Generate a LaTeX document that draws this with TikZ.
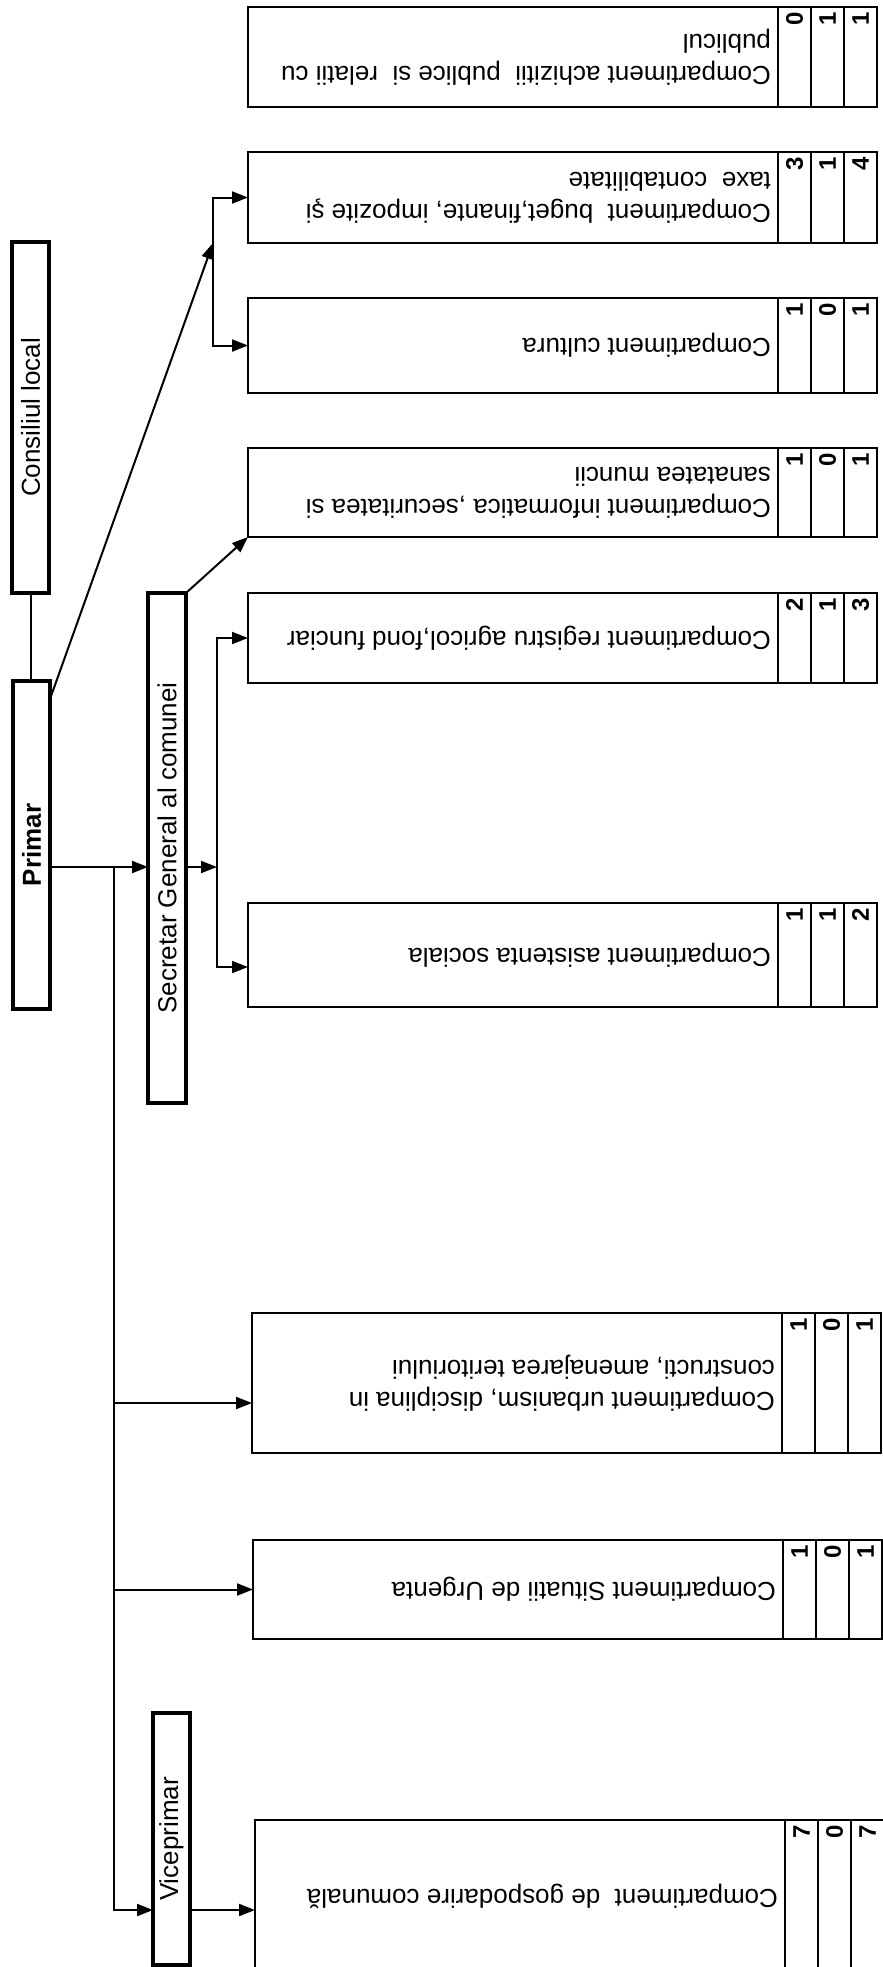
\documentclass[tikz,border=0pt]{standalone}
\usepackage{fontspec}
\setmainfont{Liberation Sans}
\usepackage{graphicx}
\usepackage{tikz}
\usetikzlibrary{arrows.meta, positioning}
\tikzset{
  headbox/.style={rectangle, draw, line width=2.2pt, inner sep=0pt, outer sep=0pt,
    font=\fontsize{13}{16}\selectfont},
  dept/.style={rectangle, draw, line width=1.2pt, minimum width=265pt, inner sep=0pt,
    outer sep=0pt, font=\fontsize{13}{16}\selectfont},
  nrcell/.style 2 args={rectangle, draw, line width=1.2pt, minimum width=16.5pt,
    minimum height=#1, inner sep=0pt, outer sep=0pt,
    label={[nrnum]north:\rotatebox{90}{#2}}},
  nrnum/.style={anchor=north, inner sep=2.5pt, font=\bfseries\fontsize{12}{12}\selectfont},
  arrow/.style={-{Triangle[length=8pt, width=6pt]}, line width=1pt},
  line/.style={line width=1pt}
}

\begin{document}
\begin{tikzpicture}[x=0.5pt, y=-0.5pt]
  \useasboundingbox (0,0) rectangle (883,1967);
  \clip (0,0) rectangle (883,1967);

  % Conducere
  \node[headbox, minimum width=18.5pt, minimum height=175.5pt] (consiliu) at (30.5,417.5) {\rotatebox{90}{Consiliul local}};
  \node[headbox, minimum width=18.5pt, minimum height=164pt] (primar) at (31.5,845) {\rotatebox{90}{\bfseries Primar}};
  \node[headbox, minimum width=19pt, minimum height=255pt] (secretar) at (167,848) {\rotatebox{90}{Secretar General al comunei}};
  \node[headbox, minimum width=18.5pt, minimum height=126pt] (vice) at (171.5,1839) {\rotatebox{90}{Viceprimar}};

  % Compartimente
  \node[dept, minimum height=50pt] (achiz) at (513,57) {\rotatebox{180}{\parbox{258pt}{\raggedright Compartiment achizitii~ publice si~ relatii cu\\publicul}}};
  \node[dept, minimum height=45.5pt] (buget) at (513,197.5) {\rotatebox{180}{\parbox{258pt}{\raggedright Compartiment~ buget,finante, impozite şi\\taxe~ contabilitate}}};
  \node[dept, minimum height=47.5pt] (cultura) at (513,345.5) {\rotatebox{180}{\parbox{258pt}{\raggedright Compartiment cultura}}};
  \node[dept, minimum height=44.5pt] (inform) at (513,492.5) {\rotatebox{180}{\parbox{258pt}{\raggedright Compartiment informatica ,securitatea si\\sanatatea muncii}}};
  \node[dept, minimum height=45pt] (registru) at (513,638) {\rotatebox{180}{\parbox{258pt}{\raggedright Compartiment registru agricol,fond funciar}}};
  \node[dept, minimum height=52pt] (asist) at (513,955) {\rotatebox{180}{\parbox{258pt}{\raggedright Compartiment asistenta sociala}}};
  \node[dept, minimum height=70pt] (urban) at (517,1383) {\rotatebox{180}{\parbox{258pt}{\raggedright Compartiment urbanism, disciplina in\\constructi, amenajarea teritoriului}}};
  \node[dept, minimum height=49.5pt] (situatii) at (518,1589.5) {\rotatebox{180}{\parbox{258pt}{\raggedright Compartiment Situatii de Urgenta}}};
  \node[dept, minimum height=76pt] (gospod) at (520,1896) {\rotatebox{180}{\parbox{258pt}{\raggedright Compartiment~ de gospodarire comunală}}};

  % Posturi
  \foreach \dep/\h/\a/\b/\c in {achiz/50pt/0/1/1, buget/45.5pt/3/1/4, cultura/47.5pt/1/0/1,
      inform/44.5pt/1/0/1, registru/45pt/2/1/3, asist/52pt/1/1/2, urban/70pt/1/0/1,
      situatii/49.5pt/1/0/1, gospod/76pt/7/0/7} {
    \node[nrcell={\h}{\a}, right=0pt of \dep] (\dep-a) {};
    \node[nrcell={\h}{\b}, right=0pt of \dep-a] (\dep-b) {};
    \node[nrcell={\h}{\c}, right=0pt of \dep-b] (\dep-c) {};
  }

  % Legaturi
  \coordinate (pbus) at (114,867);
  \coordinate (vbot) at (114,1910);
  \coordinate (sbus) at (217,867);
  \coordinate (tbus) at (213,243);
  \coordinate (urbarr) at ([yshift=-10pt]urban.west);
  \coordinate (asarr) at ([yshift=-6pt]asist.west);

  \draw[line] (consiliu.south) -- (consiliu.south |- primar.north);
  \draw[arrow] (primar.east |- pbus) -- (secretar.west |- pbus);
  \draw[arrow] ([yshift=-9pt]primar.north east) -- (tbus);
  \draw[arrow] (tbus) |- (buget.west);
  \draw[arrow] (tbus) |- (cultura.west);

  \draw[arrow] (secretar.east |- sbus) -- (sbus);
  \draw[arrow] (sbus) |- (registru.west);
  \draw[arrow] (sbus) |- (asarr);
  \draw[arrow] (secretar.north east) -- (inform.south west);

  \draw[arrow] (pbus) |- (vice.west |- vbot);
  \draw[arrow] (pbus |- urbarr) -- (urbarr);
  \draw[arrow] (pbus |- situatii.west) -- (situatii.west);
  \draw[arrow] (vice.east |- vbot) -- (gospod.west |- vbot);

\end{tikzpicture}
\end{document}
